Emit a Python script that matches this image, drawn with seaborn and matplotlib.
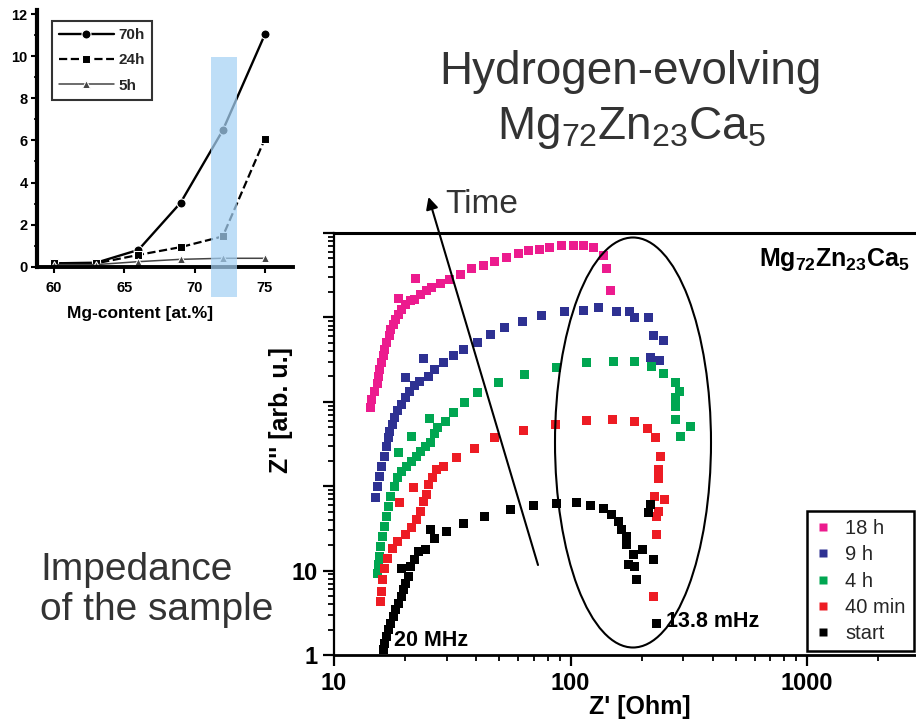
import numpy as np
import pandas as pd
import matplotlib
matplotlib.use("Agg")
import matplotlib.pyplot as plt
import seaborn as sns
from matplotlib.patches import Ellipse, Rectangle
from matplotlib.lines import Line2D
from matplotlib.ticker import LogLocator, NullFormatter, MultipleLocator

sns.set_theme(style="ticks")
plt.rcParams["font.family"] = ["Liberation Sans", "DejaVu Sans"]
plt.rcParams["mathtext.fontset"] = "custom"
plt.rcParams["mathtext.rm"] = "Liberation Sans"
plt.rcParams["mathtext.it"] = "Liberation Sans:italic"
plt.rcParams["mathtext.bf"] = "Liberation Sans:bold"

# ---------------- Nyquist data: Z' [Ohm] vs Z'' [arb. u., stacked] ----------------
zre_18h = [14.2, 14.4, 14.8, 15.2, 15.4, 15.6, 15.9, 16.2, 16.4, 16.7, 17.1, 17.4, 17.8, 18.2,
           18.7, 19.2, 20.0, 18.8, 21.0, 22.0, 22.2, 23.3, 24.7, 25.9, 28.1, 30.9, 34.4, 38.2,
           42.8, 47.9, 53.7, 60.2, 66.3, 73.8, 81.9, 91.8, 103, 113, 125, 138, 142, 147]
zim_18h = [865, 1070, 1340, 1640, 2020, 2430, 2910, 3490, 4190, 5030, 6030, 7240, 8300, 9520,
           10900, 12500, 14300, 16900, 15700, 16400, 29000, 18900, 20600, 22600, 25300, 28400,
           32600, 38100, 40900, 46100, 51400, 57400, 61700, 64600, 67600, 70700, 72000, 70700,
           67600, 53800, 38100, 21000]

zre_9h = [15.0, 15.2, 15.5, 15.9, 16.3, 16.7, 17.0, 17.2, 17.6, 18.1, 18.6, 19.2, 20.0, 20.8,
          21.9, 23.1, 23.9, 20.0, 25.0, 26.7, 29.0, 31.9, 35.2, 40.6, 45.7, 52.8, 62.8, 75.5,
          93.9, 113, 131, 157, 178, 187, 213, 224, 247, 217, 239]
zim_9h = [73, 100, 131, 172, 227, 298, 375, 449, 539, 658, 791, 931, 1120, 1320, 1540, 1760,
          3280, 1930, 2020, 2430, 2910, 3490, 4190, 5030, 6200, 7590, 8940, 10600, 11700, 12200,
          13100, 11900, 11700, 10100, 9970, 6030, 5260, 3340, 3100]

zre_4h = [15.3, 15.4, 15.5, 15.8, 16.0, 16.3, 16.6, 17.0, 17.4, 18.0, 18.6, 19.3, 20.3, 21.3,
          22.4, 23.3, 24.4, 25.5, 26.5, 27.5, 29.6, 31.9, 35.6, 40.6, 49.5, 64.2, 87.4, 117,
          152, 187, 220, 247, 277, 288, 277, 277, 277, 322, 293, 18.7, 21.3, 25.3]
zim_4h = [9.3, 11.7, 14.7, 19.3, 25.4, 33.4, 43.9, 57.7, 75.9, 99.7, 126, 150, 172, 198, 227,
          260, 298, 332, 421, 492, 590, 742, 975, 1280, 1690, 2120, 2540, 2910, 3040, 3040,
          2650, 2160, 1690, 1340, 1120, 889, 618, 514, 385, 249, 392, 635]

zre_40min = [15.8, 15.9, 16.1, 16.4, 16.9, 17.6, 18.6, 20.1, 21.2, 22.4, 23.3, 23.9, 24.6, 25.1,
             26.0, 27.0, 29.1, 33.1, 39.1, 47.9, 63.2, 86.0, 117, 150, 187, 212, 229, 240, 235,
             235, 227, 249, 235, 231, 231, 225, 19.0, 21.6]
zim_40min = [4.3, 5.65, 7.8, 10.7, 14.1, 18.5, 22.2, 26.6, 32.0, 40.1, 50.3, 66.2, 79.5, 105,
             126, 157, 172, 220, 280, 375, 457, 539, 601, 618, 580, 483, 375, 227, 157, 123,
             75.9, 69.3, 50.3, 43.9, 26.6, 4.92, 63.4, 95.5]

zre_start = [16.2, 16.4, 16.7, 17.0, 17.4, 17.8, 18.2, 18.7, 19.2, 19.6, 20.1, 20.6, 19.3, 21.0,
             22.0, 22.7, 24.3, 25.5, 26.7, 30.0, 35.2, 43.1, 55.5, 69.6, 87.4, 106, 121, 138,
             149, 159, 165, 172, 173, 202, 184, 176, 187, 191, 224, 213, 217, 231]
zim_start = [1.15, 1.38, 1.65, 1.98, 2.38, 2.85, 3.42, 4.11, 4.92, 5.92, 7.11, 8.51, 10.7, 11.2,
             13.4, 16.9, 17.7, 30.5, 24.3, 29.1, 36.0, 43.9, 52.7, 58.9, 61.6, 63.4, 59.3, 53.8,
             46.0, 38.3, 31.1, 25.4, 20.3, 18.0, 15.4, 11.7, 11.2, 7.78, 13.7, 48.2, 60.4, 2.38]

series_names = ["18 h", "9 h", "4 h", "40 min", "start"]
series_colors = ["#EC1B8E", "#2E3192", "#00A651", "#ED1C24", "#000000"]
x_ticks = [10, 100, 1000]
y_ticks = [1, 10, 100, 1000, 10000, 100000]
y_ticklabels = ["1", "10", "", "", "", ""]

# ---------------- Hydrogen evolution vs Mg content ----------------
mg_content = [60, 63, 66, 69, 72, 75]
h2_70h = [0.16, 0.19, 0.80, 3.04, 6.48, 11.04]
h2_24h = [0.16, 0.16, 0.56, 0.93, 1.44, 6.08]
h2_5h = [0.10, 0.10, 0.24, 0.35, 0.40, 0.40]

W, H = 916, 723
fig = plt.figure(figsize=(W / 100, H / 100), dpi=100)


def fx(px):
    return px / W


def fy(py):
    return 1 - py / H


# ---------------- main impedance axes ----------------
ax = fig.add_axes([fx(334), fy(655), 709.5 / W, 422 / H])
frames = [pd.DataFrame({"zre": x, "zim": y, "series": n})
          for x, y, n in [(zre_18h, zim_18h, "18 h"), (zre_9h, zim_9h, "9 h"),
                          (zre_4h, zim_4h, "4 h"), (zre_40min, zim_40min, "40 min"),
                          (zre_start, zim_start, "start")]]
df = pd.concat(frames, ignore_index=True)
ax.set_xscale("log")
ax.set_yscale("log")
sns.scatterplot(data=df, x="zre", y="zim", hue="series", hue_order=series_names,
                palette=series_colors, marker="s", s=42, linewidth=0, legend=False,
                ax=ax, zorder=3)
ax.set_xlim(10, 10000)
ax.set_ylim(1, 100000)

ax.set_xticks(x_ticks)
ax.set_xticklabels([str(t) for t in x_ticks])
ax.set_yticks(y_ticks)
ax.set_yticklabels(y_ticklabels)
ax.xaxis.set_minor_locator(LogLocator(base=10, subs=np.arange(2, 10), numticks=50))
ax.yaxis.set_minor_locator(LogLocator(base=10, subs=np.arange(2, 10), numticks=50))
ax.xaxis.set_minor_formatter(NullFormatter())
ax.yaxis.set_minor_formatter(NullFormatter())
ax.tick_params(which="major", direction="out", length=8, width=1.6, labelsize=17,
               colors="black", bottom=True, left=True, top=False, right=False, pad=4)
ax.tick_params(which="minor", direction="out", length=4.5, width=1.3, colors="black",
               bottom=True, left=True, top=False, right=False)
for lbl in ax.get_xticklabels() + ax.get_yticklabels():
    lbl.set_fontweight("bold")

for side in ["top", "bottom", "left"]:
    ax.spines[side].set_color("black")
ax.spines["top"].set_linewidth(2.2)
ax.spines["bottom"].set_linewidth(2.0)
ax.spines["left"].set_linewidth(1.6)
ax.spines["right"].set_visible(False)

ax.set_xlabel("Z' [Ohm]", fontsize=18, fontweight="bold", color="black")
ax.xaxis.set_label_coords((640 - 334) / 709.5, (655 - 695) / 422)
ax.set_ylabel("Z'' [arb. u.]", fontsize=18, fontweight="bold", color="black")
ax.yaxis.set_label_coords((293 - 334) / 709.5, (655 - 410) / 422)

handles = [Line2D([], [], ls="none", marker="s", ms=6, mfc=c, mec="none")
           for c in series_colors]
leg = ax.legend(handles, series_names, loc="upper left",
                bbox_to_anchor=(fx(807), fy(511)), bbox_transform=fig.transFigure,
                frameon=True, fancybox=False, edgecolor="black", framealpha=1,
                fontsize=14.5, handlelength=0.8, handletextpad=0.7, labelspacing=0.36,
                borderpad=0.4, borderaxespad=0)
leg.get_frame().set_linewidth(1.8)
leg.set_zorder(5)

fig.text(fx(910), fy(266), r"Mg$_{\mathbf{72}}$Zn$_{\mathbf{23}}$Ca$_{\mathbf{5}}$",
         ha="right", va="baseline", fontsize=18, fontweight="bold", color="black")

ax.annotate("20 MHz", xy=(zre_start[0], zim_start[0]), xytext=(10, 9),
            textcoords="offset pixels", ha="left", va="center", fontsize=15.5,
            fontweight="bold", color="black")
ax.annotate("13.8 mHz", xy=(zre_start[-1], zim_start[-1]), xytext=(10, 2),
            textcoords="offset pixels", ha="left", va="center", fontsize=15.5,
            fontweight="bold", color="black")

# low-frequency region highlight
fig.add_artist(Ellipse((fx(633), fy(442.5)), 156 / W, 410 / H, transform=fig.transFigure,
                       fill=False, edgecolor="black", lw=1.5, zorder=6))

# time arrow
ax.annotate("", xy=(fx(428.5), fy(197)), xytext=(fx(538), fy(565)),
            xycoords="figure fraction", textcoords="figure fraction",
            arrowprops=dict(arrowstyle="-|>", mutation_scale=18, lw=1.5, color="black",
                            shrinkA=0, shrinkB=0), zorder=6)
fig.text(fx(445), fy(213), "Time", ha="left", va="baseline", fontsize=24, color="#333333")

fig.text(fx(630), fy(84), "Hydrogen-evolving", ha="center", va="baseline", fontsize=33,
         color="#333333")
fig.text(fx(632), fy(139), r"Mg$_{72}$Zn$_{23}$Ca$_{5}$", ha="center", va="baseline",
         fontsize=33, color="#333333")
fig.text(fx(40), fy(580), "Impedance", ha="left", va="baseline", fontsize=28, color="#333333")
fig.text(fx(40), fy(620), "of the sample", ha="left", va="baseline", fontsize=28,
         color="#333333")

# ---------------- inset: hydrogen volume vs Mg content ----------------
ax_in = fig.add_axes([fx(37.3), fy(266.7), 255.7 / W, 256.7 / H])
sns.lineplot(x=mg_content, y=h2_70h, ax=ax_in, color="black", marker="o", markersize=6.5,
             lw=1.7, label="70h")
sns.lineplot(x=mg_content, y=h2_24h, ax=ax_in, color="black", marker="s", markersize=5.5,
             lw=1.6, linestyle="--", label="24h")
sns.lineplot(x=mg_content, y=h2_5h, ax=ax_in, color="#444444", marker="^", markersize=5.5,
             lw=1.1, label="5h")
ax_in.set_xlim(58.8, 77.0)
ax_in.set_ylim(0, 12.2)
ax_in.set_xticks([60, 65, 70, 75])
ax_in.set_yticks([0, 2, 4, 6, 8, 10, 12])
ax_in.yaxis.set_minor_locator(MultipleLocator(1))
ax_in.tick_params(which="major", direction="out", length=4, width=1.5, labelsize=10.5,
                  colors="black", bottom=True, left=True, pad=3)
ax_in.tick_params(which="minor", direction="out", length=2.5, width=1.2, left=True,
                  colors="black")
ax_in.tick_params(axis="x", pad=6)
for lbl in ax_in.get_xticklabels() + ax_in.get_yticklabels():
    lbl.set_fontweight("bold")
ax_in.spines["top"].set_visible(False)
ax_in.spines["right"].set_visible(False)
ax_in.spines["left"].set_linewidth(3.0)
ax_in.spines["bottom"].set_linewidth(2.8)
ax_in.spines["left"].set_color("black")
ax_in.spines["bottom"].set_color("black")
ax_in.set_facecolor("none")
ax_in.set_xlabel("Mg-content [at.%]", fontsize=12.5, fontweight="bold", color="black")
ax_in.xaxis.set_label_coords((140 - 37.3) / 255.7, (266.7 - 306) / 256.7)
ax_in.set_ylabel("")
leg_in = ax_in.legend(loc="upper left", bbox_to_anchor=(fx(52), fy(21)),
                      bbox_transform=fig.transFigure, frameon=True, fancybox=False,
                      edgecolor="#333333", framealpha=1,
                      prop={"size": 11, "weight": "bold"}, handlelength=3.6,
                      handletextpad=0.3, labelspacing=0.75, borderpad=0.45, borderaxespad=0)
leg_in.get_frame().set_linewidth(1.5)

# highlighted composition band
fig.add_artist(Rectangle((fx(211), fy(297)), 26 / W, 240 / H, transform=fig.transFigure,
                         facecolor="#a6d2f5", edgecolor="none", alpha=0.72, zorder=4))

fig.savefig("out.png", dpi=100)
